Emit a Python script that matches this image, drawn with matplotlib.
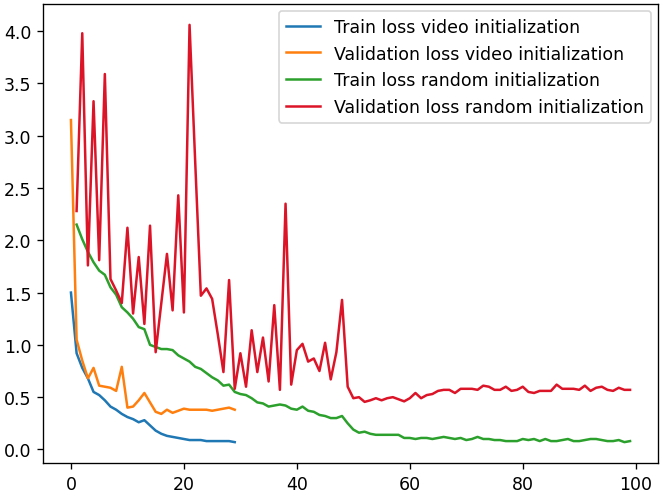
import numpy as np
import matplotlib
matplotlib.use("Agg")
import matplotlib.pyplot as plt

plt.rcParams["font.size"] = 10.4

# Epoch indices
epochs_video = np.arange(0, 30)
epochs_random = np.arange(1, 100)

# Loss curves
train_video = [1.50, 0.92, 0.78, 0.68, 0.55, 0.52, 0.47, 0.41, 0.38, 0.34,
               0.31, 0.29, 0.26, 0.28, 0.23, 0.18, 0.15, 0.13, 0.12, 0.11,
               0.10, 0.09, 0.09, 0.09, 0.08, 0.08, 0.08, 0.08, 0.08, 0.07]

val_video = [3.15, 1.05, 0.85, 0.68, 0.78, 0.61, 0.60, 0.59, 0.56, 0.79,
             0.40, 0.41, 0.47, 0.54, 0.45, 0.36, 0.34, 0.38, 0.35, 0.37,
             0.39, 0.38, 0.38, 0.38, 0.38, 0.37, 0.38, 0.39, 0.40, 0.38]

train_random = [2.15, 2.01, 1.89, 1.79, 1.71, 1.67, 1.55, 1.48, 1.36, 1.31,
                1.25, 1.17, 1.15, 1.00, 0.98, 0.96, 0.96, 0.95, 0.90, 0.87,
                0.84, 0.79, 0.77, 0.73, 0.69, 0.66, 0.61, 0.62, 0.55, 0.53,
                0.52, 0.49, 0.45, 0.44, 0.41, 0.42, 0.43, 0.42, 0.39, 0.38,
                0.41, 0.37, 0.36, 0.33, 0.32, 0.30, 0.30, 0.32, 0.25, 0.19,
                0.16, 0.17, 0.15, 0.14, 0.14, 0.14, 0.14, 0.14, 0.11, 0.11,
                0.10, 0.11, 0.11, 0.10, 0.11, 0.12, 0.11, 0.10, 0.11, 0.09,
                0.10, 0.12, 0.10, 0.10, 0.09, 0.09, 0.08, 0.08, 0.08, 0.10,
                0.09, 0.10, 0.08, 0.10, 0.08, 0.08, 0.09, 0.10, 0.08, 0.08,
                0.09, 0.10, 0.10, 0.09, 0.08, 0.08, 0.09, 0.07, 0.08]

val_random = [2.28, 3.98, 1.76, 3.33, 1.81, 3.59, 1.63, 1.52, 1.40, 2.12,
              1.30, 1.84, 1.20, 2.14, 0.93, 1.40, 1.87, 1.33, 2.43, 1.31,
              4.06, 2.75, 1.47, 1.54, 1.44, 1.10, 0.74, 1.62, 0.58, 0.92,
              0.60, 1.14, 0.74, 1.07, 0.65, 1.38, 0.57, 2.35, 0.62, 0.95,
              1.01, 0.84, 0.87, 0.75, 1.02, 0.67, 0.93, 1.43, 0.60, 0.49,
              0.50, 0.455, 0.47, 0.49, 0.47, 0.49, 0.50, 0.48, 0.46, 0.49,
              0.54, 0.49, 0.52, 0.53, 0.56, 0.57, 0.57, 0.54, 0.58, 0.58,
              0.58, 0.57, 0.61, 0.60, 0.57, 0.57, 0.60, 0.56, 0.57, 0.60,
              0.55, 0.54, 0.56, 0.56, 0.56, 0.62, 0.58, 0.58, 0.58, 0.57,
              0.61, 0.56, 0.59, 0.60, 0.57, 0.56, 0.59, 0.57, 0.57]

labels = ["Train loss video initialization",
          "Validation loss video initialization",
          "Train loss random initialization",
          "Validation loss random initialization"]

fig = plt.figure(figsize=(666 / 120, 494 / 120), dpi=120)
ax = fig.add_axes([43 / 666, 1 - 464 / 494, 615 / 666, 459 / 494])

ax.plot(epochs_video, train_video, color="#1f77b4", label=labels[0])
ax.plot(epochs_video, val_video, color="#ff7f0e", label=labels[1])
ax.plot(epochs_random, train_random, color="#2ca02c", label=labels[2])
ax.plot(epochs_random, val_random, color="#dc1428", label=labels[3])

ax.legend(loc="upper right", borderaxespad=0.4)

fig.savefig("out.png", dpi=120)
